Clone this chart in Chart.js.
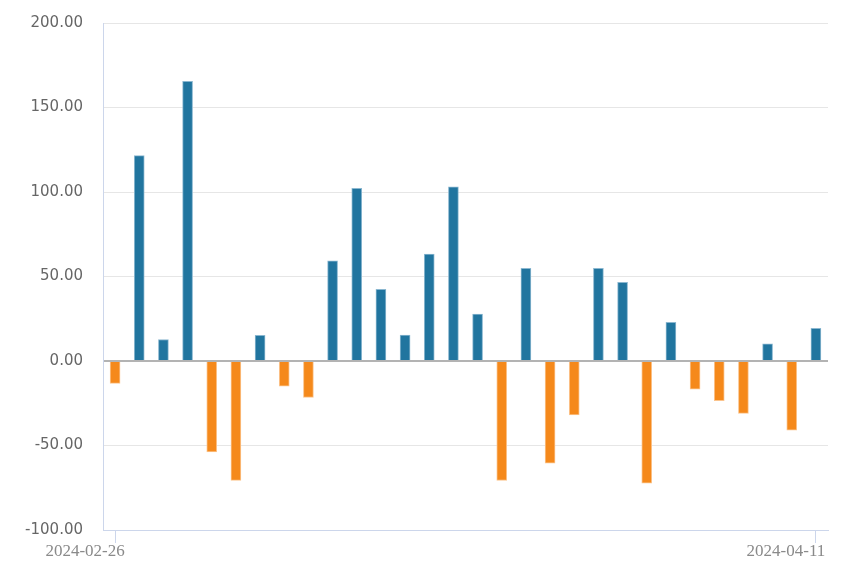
<!DOCTYPE html>
<html>
<head>
<meta charset="utf-8">
<script src="https://cdn.jsdelivr.net/npm/chart.js@4"></script>
<style>
html,body{margin:0;padding:0;background:#fff;}
#wrap{width:850px;height:565px;}
</style>
</head>
<body>
<div id="wrap"><canvas id="c" width="850" height="565"></canvas></div>
<script>
const dates = [
  "2024-02-26","2024-02-27","2024-02-28","2024-02-29","2024-03-01",
  "2024-03-04","2024-03-05","2024-03-06","2024-03-07","2024-03-08",
  "2024-03-11","2024-03-12","2024-03-13","2024-03-14","2024-03-15",
  "2024-03-18","2024-03-19","2024-03-20","2024-03-21","2024-03-22",
  "2024-03-25","2024-03-26","2024-03-27","2024-03-28","2024-04-02",
  "2024-04-03","2024-04-08","2024-04-09","2024-04-10","2024-04-11"
];
const values = [
  -13.2, 121.5, 12.7, 165.5, -53.8, -70.6, 15.2, -14.9, -21.6, 59.2,
  102.2, 42.4, 15.4, 63.3, 103.1, 27.8, -70.7, 54.9, -60.5, -31.9,
  54.9, 46.6, -72.3, 22.9, -16.6, -23.4, -31.0, 10.1, -41.0, 19.4
];
const yTicks = [-100, -50, 0, 50, 100, 150, 200];

const POS = '#21759f', NEG = '#f5891b';
const POS_B = '#8ab7d0', NEG_B = '#fbc48d';

new Chart(document.getElementById('c'), {
  type: 'bar',
  data: {
    labels: dates,
    datasets: [{
      data: values,
      backgroundColor: ctx => (ctx.raw >= 0 ? POS : NEG),
      borderColor: ctx => (ctx.raw >= 0 ? POS_B : NEG_B),
      borderWidth: 1,
      borderSkipped: 'start',
      barThickness: 10
    }]
  },
  options: {
    responsive: false,
    animation: false,
    layout: { padding: { left: 0, right: 22, top: 23, bottom: 1 } },
    plugins: { legend: { display: false }, tooltip: { enabled: false } },
    scales: {
      x: {
        offset: true,
        afterFit: s => { s.height = 34; s.paddingLeft = 0; s.paddingRight = 0; },
        grid: {
          offset: false,
          drawOnChartArea: false,
          drawTicks: true,
          tickLength: 13,
          tickColor: ctx => (ctx.index === 0 || ctx.index === dates.length - 1) ? '#ccd6eb' : 'rgba(0,0,0,0)'
        },
        border: { color: '#ccd6eb', width: 1 },
        ticks: {
          autoSkip: false,
          maxRotation: 0,
          padding: -2,
          labelOffset: -30,
          color: '#8a8a8a',
          font: { family: 'Liberation Serif', size: 17 },
          callback: function(v, i) {
            return (i === 0 || i === dates.length - 1) ? dates[i] : '';
          }
        }
      },
      y: {
        min: yTicks[0],
        max: yTicks[yTicks.length - 1],
        afterBuildTicks: s => { s.ticks = yTicks.map(v => ({ value: v })); },
        afterFit: s => { s.width = 103; s.paddingTop = 0; s.paddingBottom = 0; },
        grid: {
          drawTicks: false,
          color: ctx => ctx.tick && ctx.tick.value === 0 ? '#b3b3b3' : '#e6e6e6',
          lineWidth: ctx => ctx.tick && ctx.tick.value === 0 ? 2 : 1
        },
        border: { color: '#ccd6eb', width: 1 },
        ticks: {
          padding: 20,
          color: '#666666',
          font: { family: 'DejaVu Sans', size: 15 },
          callback: v => Number(v).toFixed(2)
        }
      }
    }
  }
});
</script>
</body>
</html>
